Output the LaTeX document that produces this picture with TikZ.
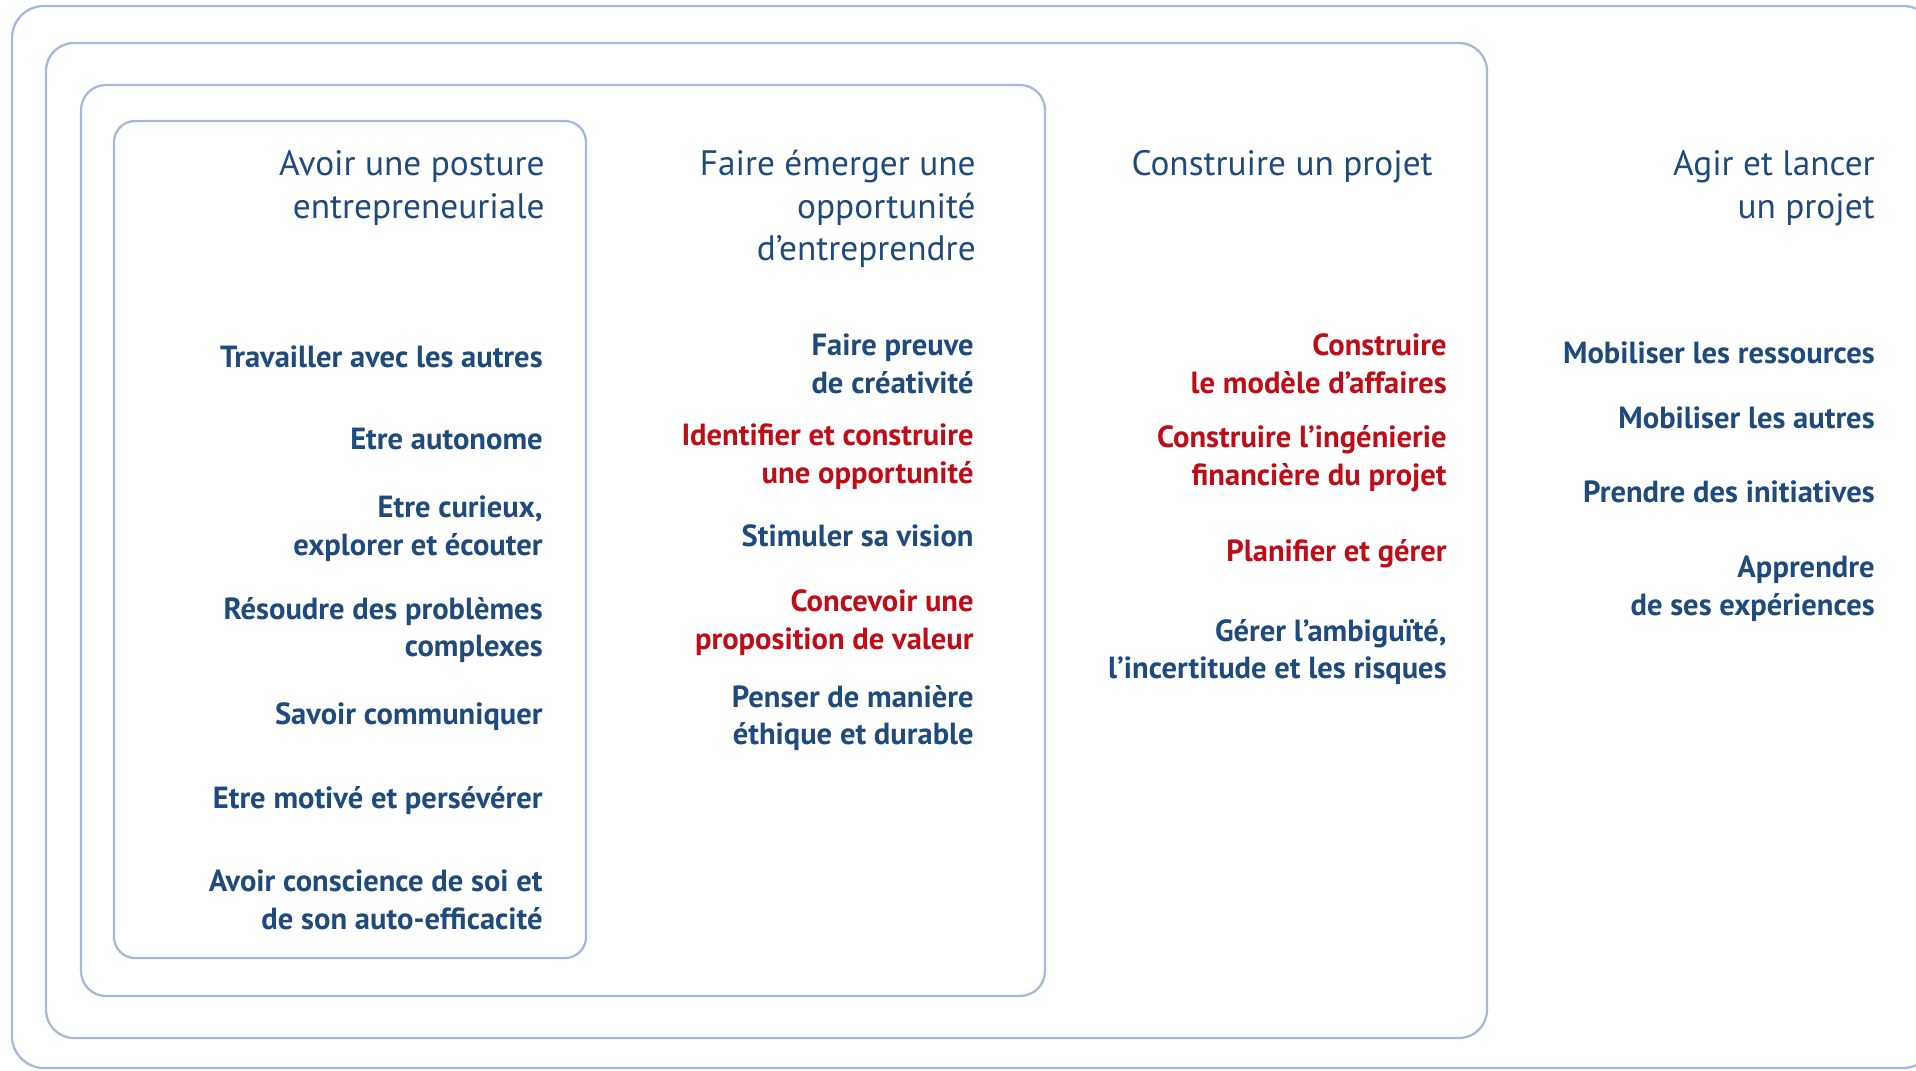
\documentclass[tikz,border=0pt]{standalone}
\usepackage{fontspec}
\setmainfont{PT Sans}
\definecolor{frameblue}{RGB}{168,184,220}
\definecolor{textblue}{RGB}{30,74,124}
\definecolor{textred}{RGB}{192,12,22}
\begin{document}
\begin{tikzpicture}[x=0.02cm,y=-0.02cm,
	frame/.style={draw=frameblue,line width=1.3pt},
	head/.style={anchor=east,align=right,inner sep=0pt,text=textblue,
		font=\fontsize{20.1}{24.3}\selectfont},
	skill/.style={anchor=east,align=right,inner sep=0pt,text=textblue,
		font=\fontsize{17.4}{21.5}\selectfont\bfseries},
	keyskill/.style={skill,text=textred}]
	\useasboundingbox (0,0) rectangle (1916,1071);
	\clip (0,0) rectangle (1916,1071);
	% nested frames
	\draw[frame,rounded corners=0.64cm] (12,6) rectangle (1935,1068);
	\draw[frame,rounded corners=0.56cm] (46,43) rectangle (1487,1038);
	\draw[frame,rounded corners=0.5cm] (81,85) rectangle (1045,996);
	\draw[frame,rounded corners=0.42cm] (114,121) rectangle (586,958);
	% headings
	\node[head] (h1) at (545,188) {Avoir une posture\\entrepreneuriale};
	\node[head] (h2) at (976,209) {Faire émerger une\\opportunité\\d’entreprendre};
	\node[head] (h3) at (1433,167) {Construire un projet};
	\node[head] (h4) at (1875,188) {Agir et lancer\\un projet};
	% first column
	\node[skill] (a1) at (543,357) {Travailler avec les autres};
	\node[skill] (a2) at (543,439) {Etre autonome};
	\node[skill] (a3) at (543,529) {Etre curieux,\\explorer et écouter};
	\node[skill] (a4) at (543,630) {Résoudre des problèmes\\complexes};
	\node[skill] (a5) at (543,717) {Savoir communiquer};
	\node[skill] (a6) at (543,801) {Etre motivé et persévérer};
	\node[skill] (a7) at (543,900) {Avoir conscience de soi et\\de son auto-efficacité};
	% second column
	\node[skill] (b1) at (974,364) {Faire preuve\\de créativité};
	\node[keyskill] (b2) at (974,457) {Identifier et construire\\une opportunité};
	\node[skill] (b3) at (974,536) {Stimuler sa vision};
	\node[keyskill] (b4) at (974,623) {Concevoir une\\proposition de valeur};
	\node[skill] (b5) at (974,718) {Penser de manière\\éthique et durable};
	% third column
	\node[keyskill] (c1) at (1447,364) {Construire\\le modèle d’affaires};
	\node[keyskill] (c2) at (1447,459) {Construire l’ingénierie\\financière du projet};
	\node[keyskill] (c3) at (1447,554) {Planifier et gérer};
	\node[skill] (c4) at (1447,652) {Gérer l’ambiguïté,\\l’incertitude et les risques};
	% fourth column
	\node[skill] (d1) at (1875,353) {Mobiliser les ressources};
	\node[skill] (d2) at (1875,418) {Mobiliser les autres};
	\node[skill] (d3) at (1875,492) {Prendre des initiatives};
	\node[skill] (d4) at (1875,589) {Apprendre\\de ses expériences};
\end{tikzpicture}
\end{document}
